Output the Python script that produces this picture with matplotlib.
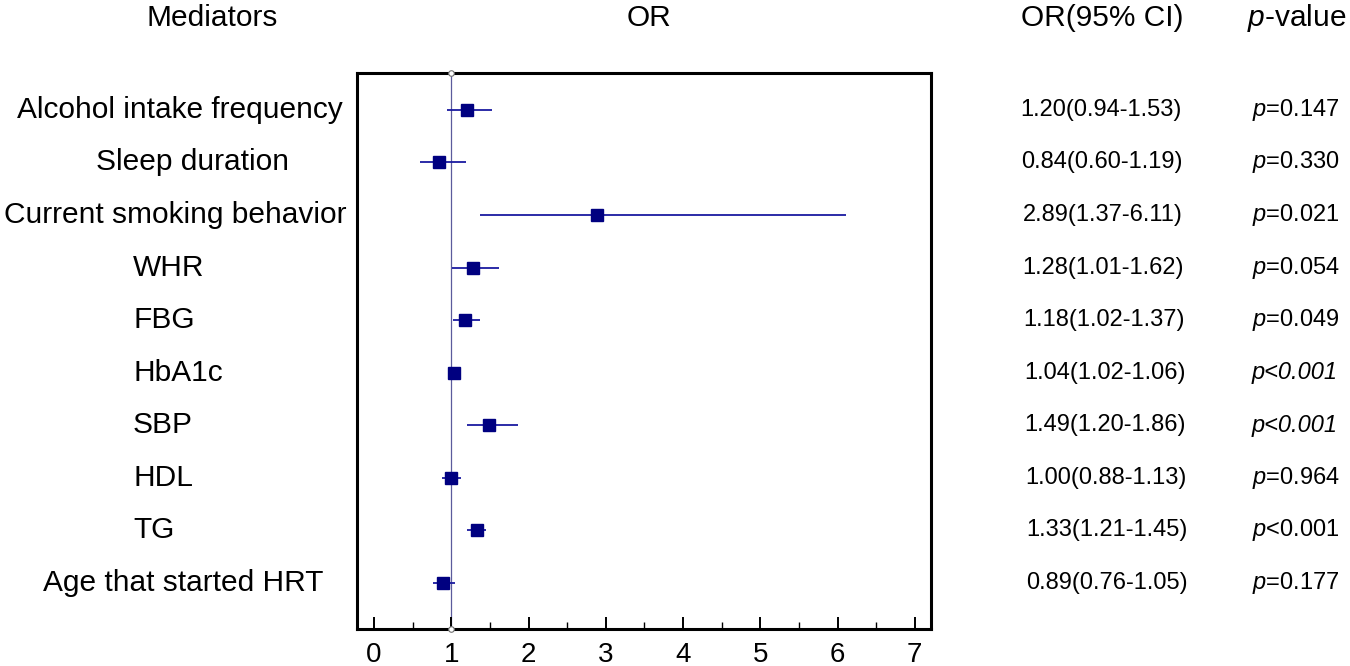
import numpy as np
import matplotlib
matplotlib.use("Agg")
import matplotlib.pyplot as plt

# values
mediators = [
    "Alcohol intake frequency",
    "Sleep duration",
    "Current smoking behavior",
    "WHR",
    "FBG",
    "HbA1c",
    "SBP",
    "HDL",
    "TG",
    "Age that started HRT",
]
odds_ratio = [1.20, 0.84, 2.89, 1.28, 1.18, 1.04, 1.49, 1.00, 1.33, 0.89]
ci_low = [0.94, 0.60, 1.37, 1.01, 1.02, 1.02, 1.20, 0.88, 1.21, 0.76]
ci_high = [1.53, 1.19, 6.11, 1.62, 1.37, 1.06, 1.86, 1.13, 1.45, 1.05]
p_text = ["=0.147", "=0.330", "=0.021", "=0.054", "=0.049",
          "<0.001", "<0.001", "=0.964", "<0.001", "=0.177"]
p_all_italic = [False, False, False, False, False, True, True, False, False, False]
x_ticks = [0, 1, 2, 3, 4, 5, 6, 7]

W, H = 1350, 666
# left edge (px) of each mediator label, irregular like the original
label_left_px = [17, 96, 4, 133, 133, 133, 133, 133, 133, 43]

plt.rcParams['font.family'] = ['Liberation Sans', 'DejaVu Sans']
plt.rcParams['mathtext.fontset'] = 'custom'
plt.rcParams['mathtext.it'] = 'Liberation Sans:italic'
plt.rcParams['mathtext.rm'] = 'Liberation Sans'


def fx(px):
    return px / W


def fy(py):
    return 1 - py / H


def main():
    fig = plt.figure(figsize=(13.5, 6.66), dpi=100)
    ax = fig.add_axes([fx(357), fy(629), fx(931) - fx(357), fy(73) - fy(629)])

    n = len(mediators)
    rows = np.arange(n)

    # reference line at OR = 1
    ax.axvline(1, color='#5b5b9c', lw=0.9, zorder=1)
    ax.plot([1, 1], [-0.70, n - 1 + 0.875], 'o', ms=4, mfc='white',
            mec='#707070', mew=0.8, clip_on=False, zorder=3)

    # CIs and point estimates
    ax.hlines(rows, ci_low, ci_high, color='#1a1aa0', lw=1.3, zorder=2)
    ax.plot(odds_ratio, rows, 's', color='#000080', ms=8, zorder=4)

    ax.set_xlim(-0.22, 7.21)
    ax.set_ylim(n - 1 + 0.875, -0.70)
    ax.set_xticks(x_ticks)
    ax.set_xticks(np.arange(0.5, 7, 1), minor=True)
    ax.set_yticks([])
    ax.tick_params(axis='x', which='major', direction='in', length=8.5,
                   width=1.4, labelsize=20, pad=9)
    ax.tick_params(axis='x', which='minor', direction='in', length=5,
                   width=1.0)
    for sp in ax.spines.values():
        sp.set_linewidth(2.2)

    # headers
    hy = fy(18)
    fig.text(fx(212), hy, "Mediators", fontsize=21.5, ha='center', va='center')
    fig.text(fx(649), hy, "OR", fontsize=21.5, ha='center', va='center')
    fig.text(fx(1102), hy, "OR(95% CI)", fontsize=21.5, ha='center', va='center')
    fig.text(fx(1297), hy, "$p$-value", fontsize=21.5, ha='center', va='center')

    # row texts
    for i in range(n):
        yy = ax.transData.transform((0, i))[1] / fig.bbox.height
        fig.text(fx(label_left_px[i]), yy, mediators[i], fontsize=21.5,
                 ha='left', va='center')
        ci_str = f"{odds_ratio[i]:.2f}({ci_low[i]:.2f}-{ci_high[i]:.2f})"
        fig.text(fx(1101 + i * 0.7), yy, ci_str, fontsize=17,
                 ha='center', va='center')
        if p_all_italic[i]:
            fig.text(fx(1252), yy, "p" + p_text[i], fontsize=17,
                     style='italic', ha='left', va='center')
        else:
            fig.text(fx(1252), yy, "$p$" + p_text[i], fontsize=17,
                     ha='left', va='center')

    fig.savefig("out.png", dpi=100)


if __name__ == '__main__':
    main()
